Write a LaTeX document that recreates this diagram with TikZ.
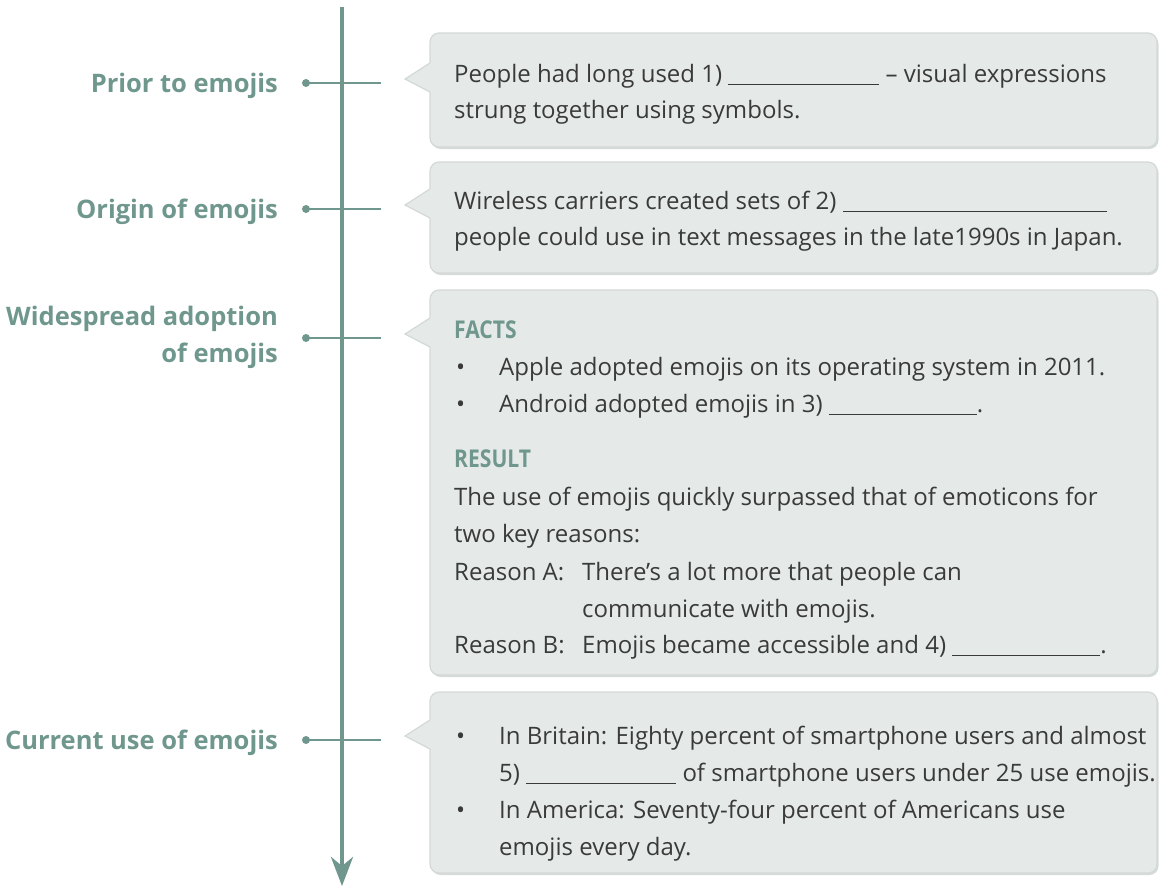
\documentclass[tikz,border=0pt]{standalone}
\usepackage{fontspec}
\setmainfont{Open Sans}
\usetikzlibrary{arrows.meta}
\definecolor{teal1}{HTML}{6F978D}
\definecolor{boxfill}{HTML}{E5EAE8}
\definecolor{boxline}{HTML}{D3D9D6}
\definecolor{boxshadow}{HTML}{D6DBD9}
\definecolor{txt}{HTML}{3A3A3A}
\newcommand\fillblank[1]{\rule[-3pt]{#1}{0.9pt}}
\newcommand\calloutpointer[1]{%
  \fill[boxfill] (429,{#1-16}) -- (405,#1) -- (429,{#1+13}) -- (435,{#1+13}) -- (435,{#1-16}) -- cycle;
  \draw[boxline, line width=1.2pt] (430,{#1-16}) -- (405,#1) -- (430,{#1+13});}
\begin{document}
\begin{tikzpicture}[x=1pt,y=-1pt,
  body/.style={anchor=base west, inner sep=0pt, text=txt, font=\fontsize{24}{37}\selectfont},
  lbl/.style={anchor=base east, inner sep=0pt, text=teal1, font=\bfseries\fontsize{25.5}{30}\selectfont},
  head/.style={anchor=base west, inner sep=0pt, text=teal1, font=\bfseries\fontsize{24.5}{30}\selectfont},
  callout/.style={draw=boxline, line width=1.2pt, fill=boxfill, rounded corners=9pt, inner sep=0pt, minimum width=727pt},
  shadowbox/.style={fill=boxshadow, rounded corners=9pt, inner sep=0pt, minimum width=727pt},
  tick/.style={draw=teal1, line width=1.6pt},
  tdot/.style={circle, fill=teal1, inner sep=0pt, minimum size=8pt},
]
\useasboundingbox (0,0) rectangle (1161,892);

% box shadows
\node[shadowbox, minimum height=114pt] (s1) at (795,92) {};
\node[shadowbox, minimum height=111pt] (s2) at (795,219.5) {};
\node[shadowbox, minimum height=385pt] (s3) at (795,484.5) {};
\node[shadowbox, minimum height=181pt] (s4) at (795,784.5) {};
% boxes
\node[callout, minimum height=114pt] (box1) at (793.5,90) {};
\node[callout, minimum height=111pt] (box2) at (793.5,217.5) {};
\node[callout, minimum height=385pt] (box3) at (793.5,482.5) {};
\node[callout, minimum height=181pt] (box4) at (793.5,782.5) {};
\calloutpointer{79}
\calloutpointer{205}
\calloutpointer{334}
\calloutpointer{736}

% timeline
\coordinate (ltop) at (342,7);
\coordinate (lbot) at (342,886);
\draw[teal1, line width=4.3pt, -{Stealth[length=29pt, width=22pt, inset=9pt]}] (ltop) -- (lbot);

% ticks
\node[tdot] (d1) at (306,83) {};  \coordinate (e1) at (381,83);  \draw[tick] (d1.center) -- (e1);
\node[tdot] (d2) at (306,209) {}; \coordinate (e2) at (381,209); \draw[tick] (d2.center) -- (e2);
\node[tdot] (d3) at (306,338) {}; \coordinate (e3) at (381,338); \draw[tick] (d3.center) -- (e3);
\node[tdot] (d4) at (306,740) {}; \coordinate (e4) at (381,740); \draw[tick] (d4.center) -- (e4);

% labels
\node[lbl] (l1) at (278,92) {Prior to emojis};
\node[lbl] (l2) at (278,218) {Origin of emojis};
\node[lbl] (l3a) at (278,325) {Widespread adoption};
\node[lbl] (l3b) at (278,362) {of emojis};
\node[lbl] (l4) at (278,749) {Current use of emojis};

% box 1
\node[body] (t1a) at (454,82) {People had long used 1) \fillblank{151pt} -- visual expressions};
\node[body] (t1b) at (454,118) {strung together using symbols.};

% box 2
\node[body] (t2a) at (454,209) {Wireless carriers created sets of 2) \fillblank{264pt}};
\node[body] (t2b) at (454,245) {people could use in text messages in the late1990s in Japan.};

% box 3
\node[head] (h3a) at (454,338) {\scalebox{0.86}[1]{FACTS}};
\node[body] (t3a) at (456,375) {\makebox[43pt][l]{•}Apple adopted emojis on its operating system in 2011.};
\node[body] (t3b) at (456,412) {\makebox[43pt][l]{•}Android adopted emojis in 3) \fillblank{148pt}.};
\node[head] (h3b) at (454,467) {\scalebox{0.86}[1]{RESULT}};
\node[body] (t3c) at (454,505) {The use of emojis quickly surpassed that of emoticons for};
\node[body] (t3d) at (454,542) {two key reasons:};
\node[body] (t3e) at (454,580) {\makebox[128pt][l]{Reason A:}There’s a lot more that people can};
\node[body] (t3f) at (582,617) {communicate with emojis.};
\node[body] (t3g) at (454,653) {\makebox[128pt][l]{Reason B:}Emojis became accessible and 4) \fillblank{148pt}.};

% box 4
\node[body] (t4a) at (456,744) {\makebox[43pt][l]{•}In Britain: Eighty percent of smartphone users and almost};
\node[body] (t4b) at (499,781) {5) \fillblank{150pt} of smartphone users under 25 use emojis.};
\node[body] (t4c) at (456,818) {\makebox[43pt][l]{•}In America: Seventy-four percent of Americans use};
\node[body] (t4d) at (499,855) {emojis every day.};
\end{tikzpicture}
\end{document}
